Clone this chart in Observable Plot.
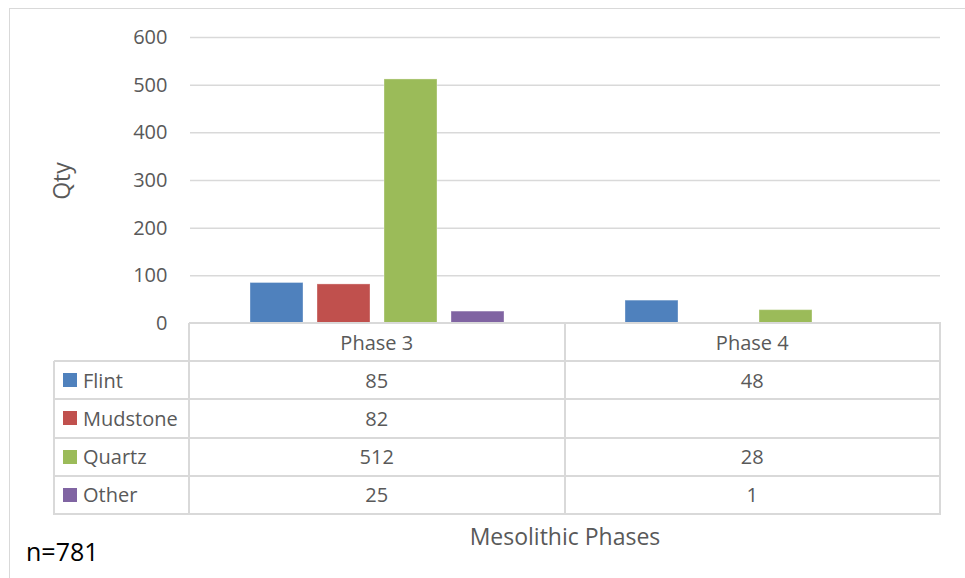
<!DOCTYPE html>
<html>
<head>
<meta charset="utf-8">
<script src="https://cdn.jsdelivr.net/npm/d3@7"></script>
<script src="https://cdn.jsdelivr.net/npm/@observablehq/plot@0.6"></script>
<style>
  html, body { margin: 0; padding: 0; background: #fff; }
  #wrap { position: relative; width: 965px; height: 578px; overflow: hidden; font-family: "Open Sans", sans-serif; color: #595959; }
  #frame { position: absolute; left: 9px; top: 8px; width: 1000px; height: 1000px; border: 1.5px solid #d9d9d9; box-sizing: border-box; }
  #chart { position: absolute; left: 0; top: 0; }
  .hl, .vl { position: absolute; background: #d9d9d9; }
  .cell { position: absolute; display: flex; align-items: center; justify-content: center; font-size: 20px; color: #595959; white-space: nowrap; }
  .leg { position: absolute; display: flex; align-items: center; font-size: 20px; color: #595959; white-space: nowrap; }
  .sw { display: inline-block; width: 14px; height: 14px; margin-right: 6px; }
  #xtitle { position: absolute; left: 365px; width: 400px; top: 520px; text-align: center; font-size: 23px; color: #595959; }
  #note { position: absolute; left: 26px; top: 534px; font-size: 25px; color: #000; }
</style>
</head>
<body>
<div id="wrap">
  <div id="frame"></div>
  <div id="chart"></div>
  <div id="table"></div>
  <div id="xtitle">Mesolithic Phases</div>
  <div id="note">n=781</div>
</div>
<script>
const phases = ["Phase 3", "Phase 4"];
const materials = ["Flint", "Mudstone", "Quartz", "Other"];
const colors = ["#4F81BD", "#C0504D", "#9BBB59", "#8064A2"];
const flint = [85, 48];
const mudstone = [82, null];
const quartz = [512, 28];
const other = [25, 1];
const yTicks = [0, 100, 200, 300, 400, 500, 600];

const series = [flint, mudstone, quartz, other];
const rows = [];
materials.forEach((m, i) => phases.forEach((p, j) => {
  if (series[i][j] != null) rows.push({phase: p, material: m, qty: series[i][j]});
}));

const W = 965, ML = 189, MR = 25, MT = 37, PB = 323;
const H = 345;

const chart = Plot.plot({
  width: W,
  height: H,
  marginLeft: ML,
  marginRight: MR,
  marginTop: MT,
  marginBottom: H - PB,
  style: {fontFamily: "Open Sans, sans-serif", fontSize: "20px", color: "#595959", background: "transparent"},
  fx: {domain: phases, padding: 0, axis: null},
  x: {domain: materials, paddingInner: 0.206, paddingOuter: 0.864, axis: null},
  y: {domain: [0, 600], axis: null},
  color: {domain: materials, range: colors},
  marks: [
    Plot.ruleY(yTicks.slice(1), {stroke: "#d9d9d9", strokeWidth: 1.5, strokeOpacity: 1}),
    Plot.barY(rows, {fx: "phase", x: "material", y: "qty", fill: "material", stroke: "#ffffff", strokeOpacity: 0.35, strokeWidth: 1}),
    Plot.axisY({ticks: yTicks, label: null, tickSize: 0, tickPadding: 23, fontSize: 20, fill: "#595959", tickFormat: d => String(d)})
  ]
});
document.getElementById("chart").appendChild(chart);

// data table below the chart
const table = document.getElementById("table");
const colL = 54, col0 = ML, col2 = W - MR, col1 = (col0 + col2) / 2;
const rowTop = PB, rowH = 38.2;
const rowY = d3.range(6).map(i => rowTop + i * rowH);
function addDiv(cls, style, html) {
  const d = document.createElement("div");
  d.className = cls;
  Object.assign(d.style, style);
  if (html != null) d.innerHTML = html;
  table.appendChild(d);
  return d;
}
// horizontal lines
rowY.forEach((y, i) => {
  const x0 = i === 0 ? col0 : colL;
  addDiv("hl", {left: x0 + "px", top: (y - 1) + "px", width: (col2 - x0 + 1) + "px", height: "2px"});
});
// vertical lines
addDiv("vl", {left: (colL - 1) + "px", top: rowY[1] + "px", width: "2px", height: (rowY[5] - rowY[1] + 1) + "px"});
[col0, col1, col2].forEach(x => {
  addDiv("vl", {left: (x - 1) + "px", top: rowY[0] + "px", width: "2px", height: (rowY[5] - rowY[0] + 1) + "px"});
});
const colEdges = [[col0, col1], [col1, col2]];
// header
phases.forEach((p, j) => {
  addDiv("cell", {left: colEdges[j][0] + "px", width: (colEdges[j][1] - colEdges[j][0]) + "px", top: rowY[0] + "px", height: rowH + "px"}, p);
});
// body
materials.forEach((m, i) => {
  const y = rowY[i + 1];
  addDiv("leg", {left: (colL + 9) + "px", top: y + "px", height: rowH + "px"},
    `<span class="sw" style="background:${colors[i]}"></span>${m}`);
  phases.forEach((p, j) => {
    const v = series[i][j];
    addDiv("cell", {left: colEdges[j][0] + "px", width: (colEdges[j][1] - colEdges[j][0]) + "px", top: y + "px", height: rowH + "px"}, v == null ? "" : String(v));
  });
});

// y axis title
const qty = document.createElement("div");
Object.assign(qty.style, {position: "absolute", left: "61px", top: "181px", transform: "translate(-50%,-50%) rotate(-90deg)", fontSize: "23px", color: "#595959", whiteSpace: "nowrap"});
qty.textContent = "Qty";
document.getElementById("wrap").appendChild(qty);
</script>
</body>
</html>
